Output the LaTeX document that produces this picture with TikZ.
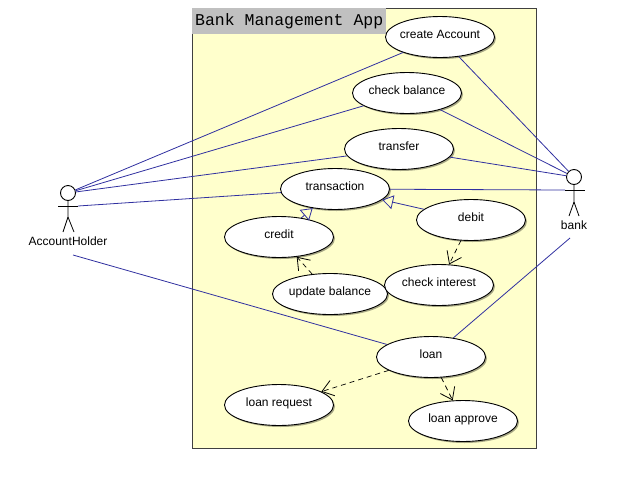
\documentclass[tikz,border=0pt]{standalone}
\usepackage{fontspec}
\setmainfont{Liberation Sans}
\setmonofont{Liberation Mono}
\usetikzlibrary{arrows.meta,shapes.geometric,shadows}
\definecolor{boxyellow}{HTML}{FFFFCC}
\definecolor{titlegray}{HTML}{C0C0C0}
\definecolor{edgegray}{HTML}{404040}
\definecolor{assocblue}{HTML}{3030A0}
\tikzset{
    usecase/.style={ellipse, draw=black, fill=white, line width=0.9pt, inner xsep=-15pt, inner ysep=0pt,
        minimum width=109pt, minimum height=41pt, text height=7pt, text depth=4pt, font=\fontsize{12}{12}\selectfont,
        drop shadow={shadow xshift=1.5pt, shadow yshift=-1.5pt, fill=black, opacity=0.35}},
    head/.style={circle, draw=black, fill=white, line width=0.9pt, minimum size=15pt, inner sep=0pt},
    actorlabel/.style={font=\fontsize{12}{12}\selectfont, inner sep=1pt},
    stick/.style={draw=black, line width=0.8pt},
    assoc/.style={draw=assocblue, line width=0.8pt},
    general/.style={assoc, -{Triangle[open, length=11pt, width=14pt]}},
    depend/.style={draw=black, line width=0.7pt, dashed, dash pattern=on 5pt off 4pt, -{Straight Barb[length=11pt, width=16pt, line width=0.8pt]}}
}
\begin{document}
\begin{tikzpicture}[x=1pt, y=-1pt]
        \useasboundingbox (0,0) rectangle (629,488);
        \draw[edgegray, fill=boxyellow, line width=0.8pt] (192,8) rectangle (536,448);
        \node[fill=titlegray, anchor=north west, minimum height=26pt, minimum width=194pt, inner xsep=1pt, inner ysep=0pt, font=\ttfamily\fontsize{16.5}{18}\selectfont] (title) at (192,8) {\spaceskip=9.9pt Bank Management App};

        \node[usecase] (create) at (440,37) {create Account};
        \node[usecase] (check) at (407,93) {check balance};
        \node[usecase] (transfer) at (399,149) {transfer};
        \node[usecase] (transaction) at (335,189) {transaction};
        \node[usecase] (debit) at (471,220) {debit};
        \node[usecase] (credit) at (279,237) {credit};
        \node[usecase, minimum width=115pt] (update) at (330,294) {update balance};
        \node[usecase] (interest) at (439,285) {check interest};
        \node[usecase] (loan) at (431,357) {loan};
        \node[usecase] (request) at (279,405) {loan request};
        \node[usecase] (approve) at (463,421) {loan approve};

        \node[head] (holderhead) at (68,193) {};
        \coordinate (holderarm) at (78,206);
        \coordinate (holderfoot) at (73,255);
        \draw[stick] (holderhead.south) -- (68,217) -- (63,232);
        \draw[stick] (68,217) -- (74,232);
        \draw[stick] (58,206) -- (holderarm);
        \node[actorlabel] (holder) at (68,241) {AccountHolder};

        \node[head] (bankhead) at (574,177) {};
        \coordinate (bankarm) at (565,190);
        \coordinate (bankfoot) at (570,238);
        \draw[stick] (bankhead.south) -- (574,202) -- (569,216);
        \draw[stick] (574,202) -- (579,216);
        \draw[stick] (bankarm) -- (585,190);
        \node[actorlabel] (bank) at (574,225) {bank};

        \draw[assoc] (holderhead) -- (create);
        \draw[assoc] (holderhead) -- (check);
        \draw[assoc] (holderhead) -- (transfer);
        \draw[assoc] (holderarm) -- (transaction);
        \draw[assoc] (holderfoot) -- (loan);
        \draw[assoc] (bankhead) -- (create);
        \draw[assoc] (bankhead) -- (check);
        \draw[assoc] (bankhead) -- (transfer);
        \draw[assoc] (bankarm) -- (transaction);
        \draw[assoc] (bankfoot) -- (loan);

        \draw[general] (credit) -- (transaction);
        \draw[general] (debit) -- (transaction);
        \draw[depend] (debit) -- (interest);
        \draw[depend] (update) -- (credit);
        \draw[depend] (loan) -- (request);
        \draw[depend] (loan) -- (approve);
    \end{tikzpicture}
\end{document}
